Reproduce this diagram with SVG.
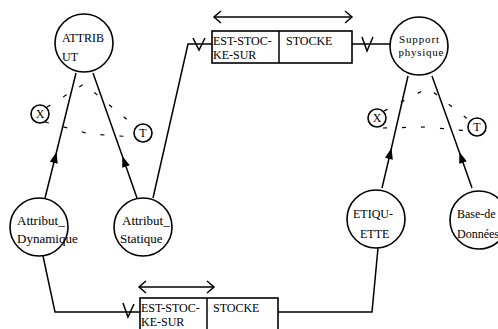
<svg xmlns="http://www.w3.org/2000/svg" width="498" height="329" viewBox="0 0 498 329">
<style>
.n{fill:#fff;stroke:#000;stroke-width:1.6}
.l{fill:none;stroke:#000;stroke-width:1.5}
.d{fill:none;stroke:#000;stroke-width:1.2;stroke-dasharray:4 15}
.t{font-family:"Liberation Serif","Times New Roman",serif;font-size:12px;fill:#000}
.s{font-size:13px}
.c{font-size:11px}
</style>
<defs>
<marker id="ah" viewBox="-11 -5 13 10" markerWidth="13" markerHeight="10" refX="0" refY="0" orient="auto" markerUnits="userSpaceOnUse">
<path d="M2,0 L-9,-4 L-9,4 Z" fill="#000"/>
</marker>
<marker id="ch" viewBox="-10 -7 12 14" markerWidth="12" markerHeight="14" refX="0" refY="0" orient="auto-start-reverse" markerUnits="userSpaceOnUse">
<path d="M-7,-6 L0,0 L-7,6" fill="none" stroke="#000" stroke-width="1.5"/>
</marker>
</defs>
<rect width="498" height="329" fill="#fff"/>
<g id="connectors">
<path class="l" d="M45,198 L56,154 L76,73" marker-mid="url(#ah)"/>
<path class="l" d="M137,198 L123,158 L93,73" marker-mid="url(#ah)"/>
<path class="l" d="M382,188 L391,150 L408,76" marker-mid="url(#ah)"/>
<path class="l" d="M472,188 L460,154 L432,76" marker-mid="url(#ah)"/>
<polyline class="d" points="47,107 84,84 136,127"/>
<polyline class="d" points="45,122 90,134 134,137"/>
<polyline class="d" points="384,111 428,88 469,120"/>
<polyline class="d" points="383,128 426,127 469,131"/>
<polyline class="l" points="153,198 188,44 212,44"/>
<polyline class="l" points="193,38 199,50 205,38"/>
<line class="l" x1="352" y1="44" x2="390" y2="44"/>
<polyline class="l" points="362,37 367,51 373,37"/>
<polyline class="l" points="43,256 55,312 140,312"/>
<polyline class="l" points="123,303 128,317 134,304"/>
<polyline class="l" points="378,248 372,312 278,312"/>
<line class="l" x1="214" y1="17" x2="352" y2="17" marker-start="url(#ch)" marker-end="url(#ch)"/>
<line class="l" x1="139" y1="287" x2="214" y2="287" marker-start="url(#ch)" marker-end="url(#ch)"/>
</g>
<g id="rel-top">
<rect class="n" x="212" y="31" width="140" height="32"/>
<line class="l" x1="279" y1="31" x2="279" y2="63"/>
<text class="t" x="213" y="45">EST-STOC-</text>
<text class="t" x="213" y="59">KE-SUR</text>
<text class="t" x="286" y="45">STOCKE</text>
</g>
<g id="rel-bottom">
<rect class="n" x="140" y="298" width="138" height="40"/>
<line class="l" x1="207" y1="298" x2="207" y2="338"/>
<text class="t" x="141" y="312">EST-STOC-</text>
<text class="t" x="141" y="326">KE-SUR</text>
<text class="t" x="213" y="312">STOCKE</text>
</g>
<g id="attribut">
<circle class="n" cx="84" cy="43" r="29"/>
<text class="t" x="62" y="42">ATTRIB</text>
<text class="t" x="62" y="61">UT</text>
</g>
<g id="attribut-dynamique">
<circle class="n" cx="39" cy="227" r="29"/>
<text class="t s" x="17" y="225">Attribut_</text>
<text class="t s" x="17" y="243">Dynamique</text>
</g>
<g id="attribut-statique">
<circle class="n" cx="143" cy="227" r="29"/>
<text class="t s" x="122" y="225">Attribut_</text>
<text class="t s" x="120" y="243">Statique</text>
</g>
<g id="support">
<circle class="n" cx="419" cy="46" r="29"/>
<text class="t c" x="419" y="43" text-anchor="middle" textLength="40">Support</text>
<text class="t c" x="421" y="56" text-anchor="middle" textLength="45">physique</text>
</g>
<g id="etiquette">
<circle class="n" cx="376" cy="219" r="29"/>
<text class="t" x="353" y="218">ETIQU-</text>
<text class="t" x="360" y="238">ETTE</text>
</g>
<g id="base-donnees">
<circle class="n" cx="479" cy="220" r="29"/>
<text class="t" x="457" y="218">Base-de</text>
<text class="t" x="457" y="238">Données</text>
</g>
<g id="x-left">
<circle class="n" cx="40" cy="114" r="9"/>
<text class="t" x="40" y="118" text-anchor="middle">X</text>
</g>
<g id="t-left">
<circle class="n" cx="143" cy="133" r="9"/>
<text class="t" x="143" y="137" text-anchor="middle">T</text>
</g>
<g id="x-right">
<circle class="n" cx="377" cy="118" r="9"/>
<text class="t" x="377" y="122" text-anchor="middle">X</text>
</g>
<g id="t-right">
<circle class="n" cx="477" cy="127" r="9"/>
<text class="t" x="477" y="131" text-anchor="middle">T</text>
</g>
</svg>
